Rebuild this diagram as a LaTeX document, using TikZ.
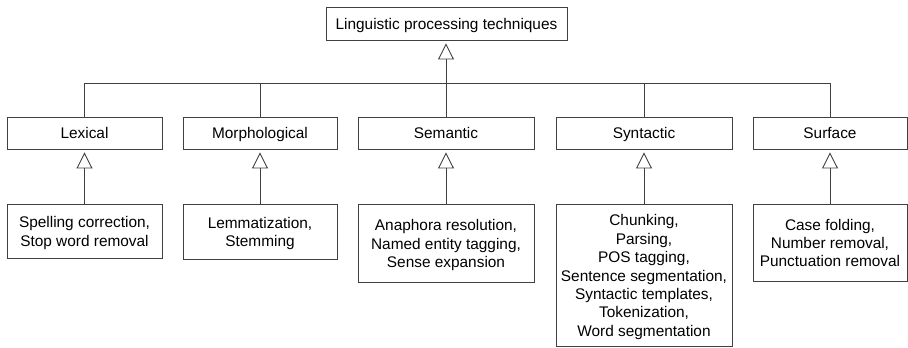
\documentclass[tikz,border=0pt]{standalone}
\usepackage{fontspec}
\setmainfont{Liberation Sans}
\usetikzlibrary{arrows.meta}

\begin{document}
\begin{tikzpicture}[x=1pt,y=-1pt,
          box/.style={draw=black!75,line width=0.9pt,align=center,inner sep=2pt,
            font=\fontsize{15.4}{18.4}\selectfont,text depth=0pt,minimum height=32pt},
          leaf/.style={box,anchor=north},
          link/.style={draw=black!75,line width=0.9pt},
          gen/.style={link,-{Triangle[open,length=16pt,width=16pt]},shorten >=3pt}]
          \useasboundingbox (0,0) rectangle (908,348);
          \node[box,minimum width=241pt,minimum height=33pt](top) at (446.5,23.5)
            {Linguistic processing techniques};
          % categories
          \foreach \n/\x/\w/\t in {lex/84.5/155/Lexical,mor/260/154/Morphological,
            sem/446/176/Semantic,syn/644/176/Syntactic,sur/830/154/Surface}
            {\node[box,minimum width=\w pt](\n) at (\x,133){\t};}
          % techniques
          \node[leaf,minimum width=155pt,minimum height=54pt](lexd) at (84.5,204)
            {Spelling correction,\\Stop word removal};
          \node[leaf,minimum width=154pt,minimum height=55pt](mord) at (260,204)
            {Lemmatization,\\Stemming};
          \node[leaf,minimum width=176pt,minimum height=78pt](semd) at (446,204)
            {Anaphora resolution,\\Named entity tagging,\\Sense expansion};
          \node[leaf,minimum width=176pt,minimum height=142pt](synd) at (644,204)
            {Chunking,\\Parsing,\\POS tagging,\\Sentence segmentation,\\
             Syntactic templates,\\Tokenization,\\Word segmentation};
          \node[leaf,minimum width=154pt,minimum height=77pt](surd) at (830,204)
            {Case folding,\\Number removal,\\Punctuation removal};
          \coordinate (bar) at (446,83);
          \draw[gen](sem.north)--(sem.north|-top.south);
          \foreach \n in {lex,mor,syn,sur}
            {\draw[link](\n.north)|-(bar);}
          \foreach \n in {lex,mor,sem,syn,sur}
            {\draw[gen](\n d.north)--(\n.south);}
        \end{tikzpicture}
\end{document}
